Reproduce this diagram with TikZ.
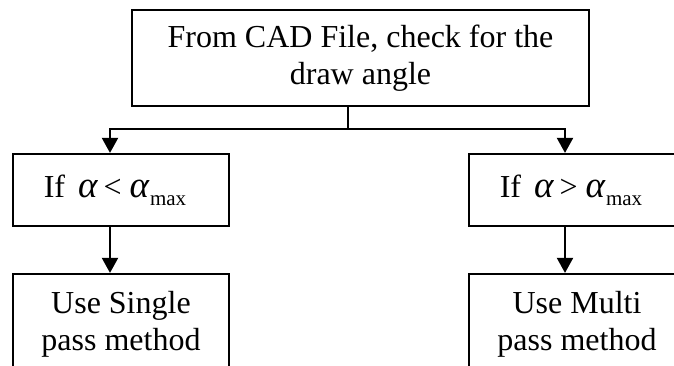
\documentclass[tikz,border=0pt]{standalone}
\usepackage{fontspec}
\setmainfont{Liberation Serif}
\usetikzlibrary{arrows.meta}

\tikzset{
  flowbox/.style={draw, line width=2.2pt, align=center, inner sep=0pt,
    minimum width=216pt, font=\fontsize{32}{36.8}\selectfont},
  flowarrow/.style={line width=2pt, -{Triangle[width=16pt,length=15pt]}},
}
\newcommand{\alp}{{\fontsize{37}{37}\selectfont\itshape α}}
\newcommand{\amax}{\alp\hspace{1pt}\raisebox{-8pt}{\fontsize{21}{21}\selectfont max}}

\begin{document}
\begin{tikzpicture}[x=1pt,y=-1pt]
	\useasboundingbox (0,0) rectangle (674,365);
	\clip (0,0) rectangle (674,365);
	% boxes
	\node[flowbox, minimum width=457pt, minimum height=96pt] (cad) at (360.5,58) {From CAD File, check for the\\draw angle};
	\node[flowbox, minimum height=72pt] (less) at (121,190) {\hspace*{-12pt}If\hspace{13pt}\alp\hspace{6pt}<\hspace{8pt}\amax};
	\node[flowbox, minimum height=72pt] (more) at (577,190) {\hspace*{-12pt}If\hspace{13pt}\alp\hspace{6pt}>\hspace{8pt}\amax};
	\node[flowbox, minimum height=100pt] (single) at (121,324) {Use Single\\pass method};
	\node[flowbox, minimum height=100pt] (multi) at (577,324) {Use Multi\\pass method};
	% connectors
	\coordinate (split) at (348,129);
	\draw[line width=2pt] (cad.south -| split) -- (split);
	\draw[flowarrow] (split) -| ([xshift=-11pt]less.north);
	\draw[flowarrow] (split) -| ([xshift=-12pt]more.north);
	\draw[flowarrow] ([xshift=-11pt]less.south) -- ([xshift=-11pt]single.north);
	\draw[flowarrow] ([xshift=-12pt]more.south) -- ([xshift=-12pt]multi.north);
\end{tikzpicture}
\end{document}
